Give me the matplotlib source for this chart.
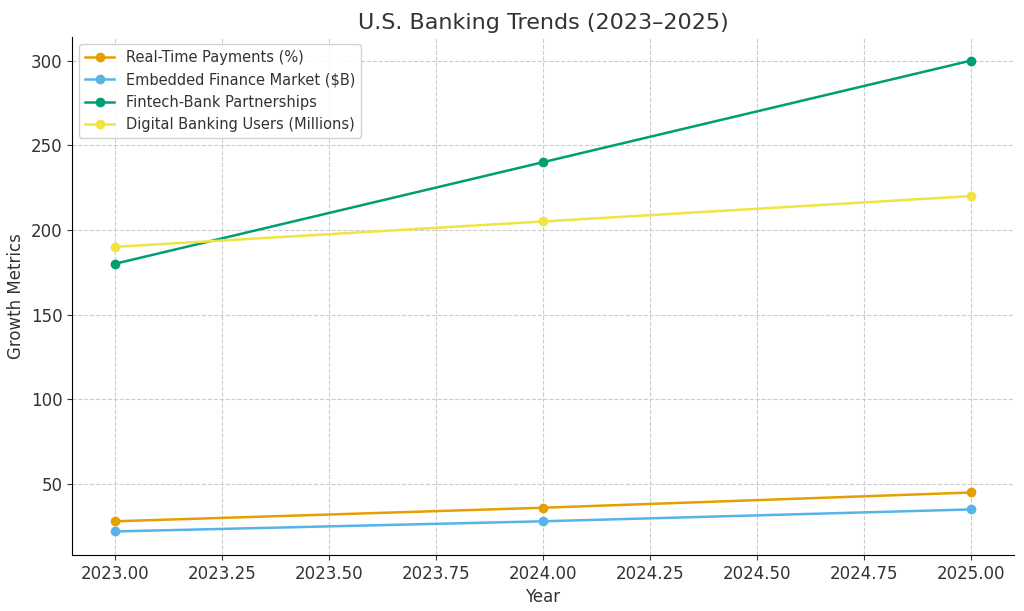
import matplotlib
matplotlib.use("Agg")
import matplotlib.pyplot as plt

years = [2023, 2024, 2025]
real_time_payments = [28, 36, 45]
embedded_finance = [22, 28, 35]
fintech_partnerships = [180, 240, 300]
digital_users = [190, 205, 220]

series = [
    ("Real-Time Payments (%)", real_time_payments, "#E69F00"),
    ("Embedded Finance Market ($B)", embedded_finance, "#56B4E9"),
    ("Fintech-Bank Partnerships", fintech_partnerships, "#009E73"),
    ("Digital Banking Users (Millions)", digital_users, "#F0E442"),
]

plt.rcParams["text.color"] = "#333333"
plt.rcParams["axes.labelcolor"] = "#333333"
plt.rcParams["xtick.color"] = "#333333"
plt.rcParams["ytick.color"] = "#333333"

fig = plt.figure(figsize=(10.24, 6.11), dpi=100)
ax = fig.add_axes([72 / 1024, 1 - 555 / 611, (1014 - 72) / 1024, (555 - 37) / 611])

for label, values, color in series:
    ax.plot(years, values, marker="o", color=color, linewidth=1.8, markersize=6, label=label)

ax.set_title("U.S. Banking Trends (2023\u20132025)", fontsize=16, pad=6)
ax.set_xlabel("Year", fontsize=12)
ax.set_ylabel("Growth Metrics", fontsize=12)
ax.tick_params(labelsize=12)
ax.set_xticks([2023.0, 2023.25, 2023.5, 2023.75, 2024.0, 2024.25, 2024.5, 2024.75, 2025.0])
ax.xaxis.set_major_formatter(plt.FormatStrFormatter("%.2f"))
ax.grid(True, linestyle="--", color="#cccccc", linewidth=0.8)
ax.set_axisbelow(True)
for side in ["top", "right"]:
    ax.spines[side].set_visible(False)

ax.legend(loc="upper left", fontsize=10.5, framealpha=0.9, edgecolor="#cccccc")

fig.savefig("out.png", dpi=100)
